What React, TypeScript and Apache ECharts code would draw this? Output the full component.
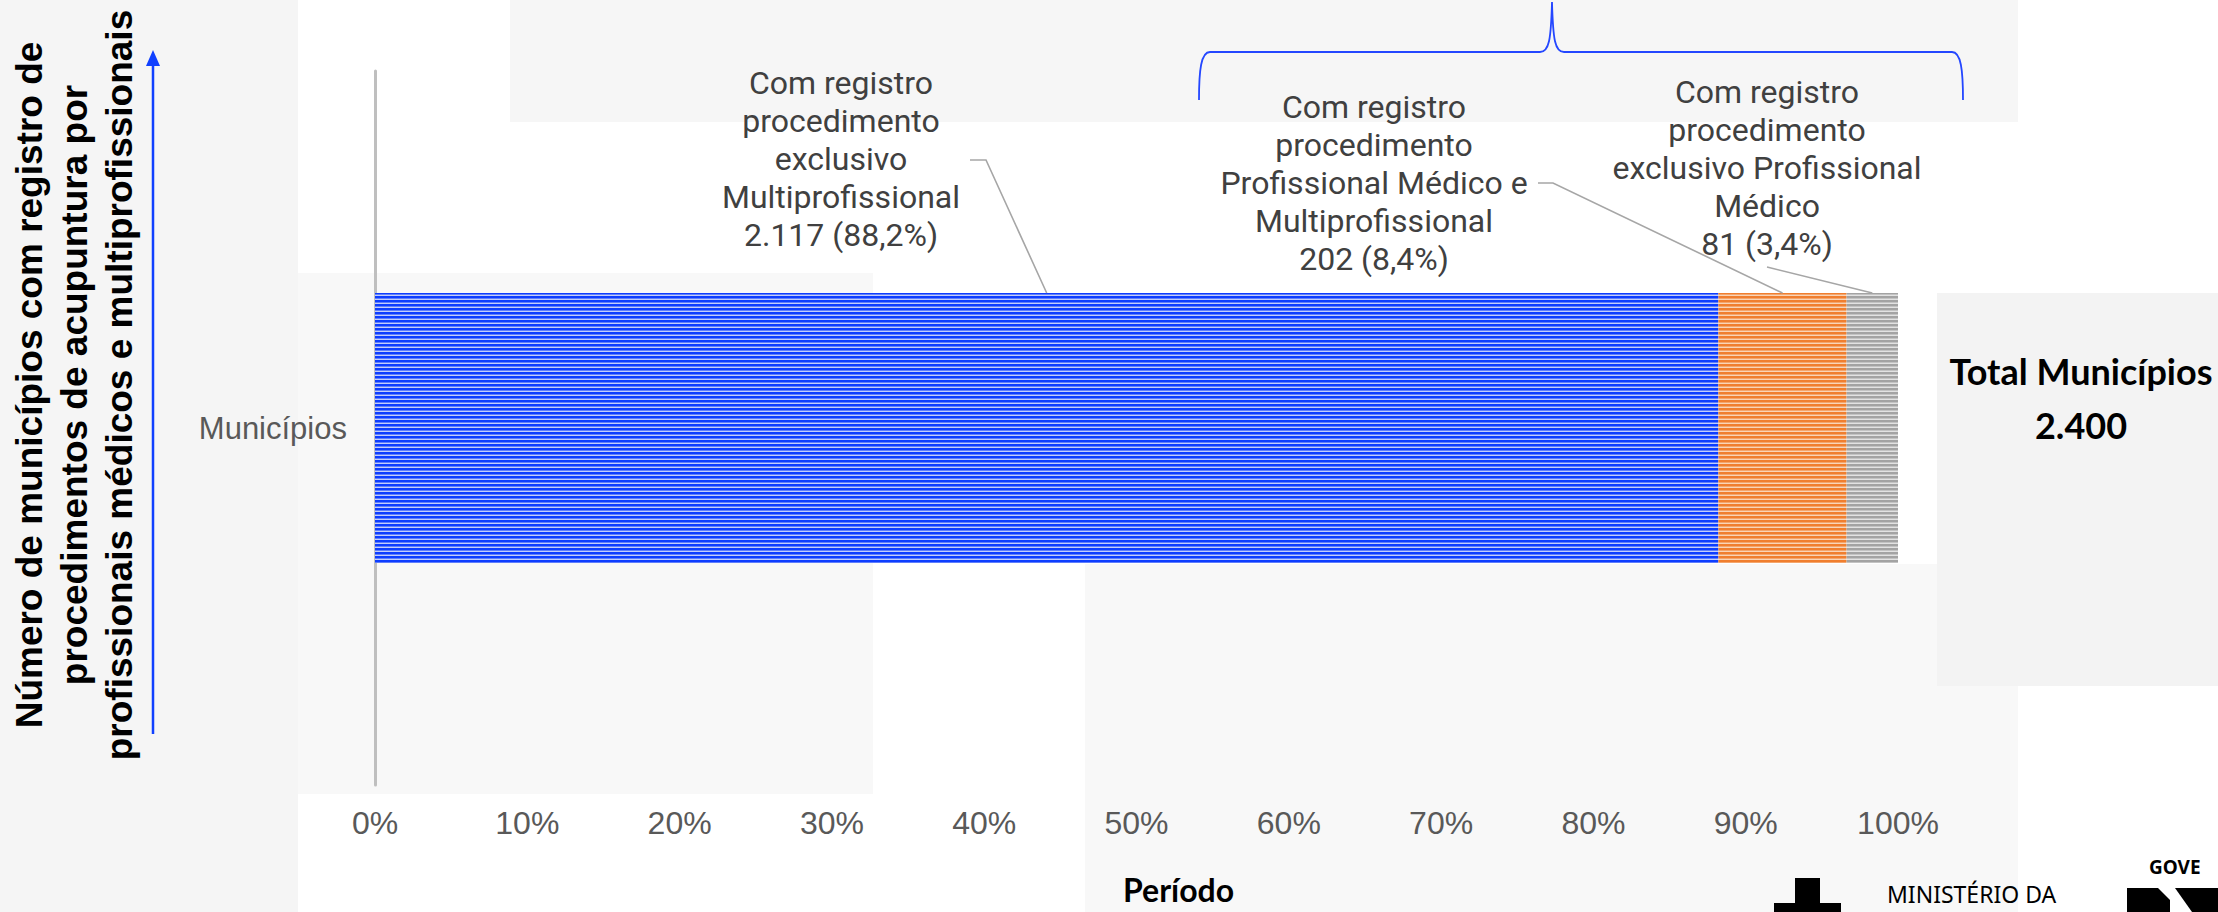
import React, { useEffect, useRef } from "react";
import * as echarts from "echarts";

// ---------- DATA ----------
const categories = ["Municípios"];
const seriesNames = [
  "Com registro procedimento exclusivo Multiprofissional",
  "Com registro procedimento Profissional Médico e Multiprofissional",
  "Com registro procedimento exclusivo Profissional Médico",
];
const exclusivoMulti = [2117];
const medicoEMulti = [202];
const exclusivoMedico = [81];
const labelHeadLines = [
  ["Com registro", "procedimento", "exclusivo", "Multiprofissional"],
  ["Com registro", "procedimento", "Profissional Médico e", "Multiprofissional"],
  ["Com registro", "procedimento", "exclusivo Profissional", "Médico"],
];
const xTickLabels = ["0%", "10%", "20%", "30%", "40%", "50%", "60%", "70%", "80%", "90%", "100%"];
const yTitleLines = [
  "Número de municípios com registro de",
  "procedimentos de acupuntura por",
  "profissionais médicos e multiprofissionais",
];

// ---------- helpers ----------
const fmtInt = (v: number) => String(v).replace(/\B(?=(\d{3})+(?!\d))/g, ".");
const fmtPct = (v: number, total: number) => {
  const t = Math.round((v * 1000) / total) / 10;
  return t.toFixed(1).replace(".", ",") + "%";
};

function stripe(dark: string, mid: string, light: string) {
  const c = document.createElement("canvas");
  c.width = 4;
  c.height = 4;
  const ctx = c.getContext("2d")!;
  ctx.fillStyle = light;
  ctx.fillRect(0, 0, 4, 4);
  ctx.fillStyle = dark;
  ctx.fillRect(0, 0, 4, 2);
  ctx.fillStyle = mid;
  ctx.fillRect(0, 2, 4, 1);
  return { image: c, repeat: "repeat", imageWidth: 4, imageHeight: 4 } as any;
}

let braceRegistered = false;
function registerBrace() {
  if (braceRegistered) return;
  braceRegistered = true;
  const d =
    "M1199,100 C1199,70 1201,52 1210,52 L1540,52 C1549,52 1551,40 1552,2 C1553,40 1555,52 1564,52 L1952,52 C1961,52 1963,70 1963,100";
  echarts.graphic.registerShape("brace", (echarts.graphic as any).extendPath(d, {}));
}

const BAR_WIDTH = 270;
const LABEL_FONT = "Roboto";
const LABEL_COLOR = "#404040";

export default function App() {
  const ref = useRef<HTMLDivElement>(null);

  useEffect(() => {
    if (!ref.current) return;
    registerBrace();
    const chart = echarts.init(ref.current, null, { renderer: "svg" });

    const seriesData = [exclusivoMulti, medicoEMulti, exclusivoMedico];
    const total = seriesData.reduce((s, arr) => s + arr[0], 0);
    const patterns = [
      stripe("#0d3dff", "#5f7efd", "#c3cdfb"),
      stripe("#f07e2e", "#f4a56c", "#f9d4b6"),
      stripe("#a3a3a3", "#c3c3c3", "#e2e2e2"),
    ];

    chart.setOption({
      animation: false,
      backgroundColor: "#ffffff",
      grid: { left: 375, right: 320, top: 71, bottom: 127, containLabel: false },
      xAxis: {
        type: "value",
        min: 0,
        max: total,
        interval: total / 10,
        axisLine: { show: false },
        axisTick: { show: false },
        splitLine: { show: false },
        axisLabel: {
          formatter: (_v: number, i: number) => xTickLabels[i] ?? "",
          fontSize: 32,
          fontFamily: "Liberation Sans",
          color: "#595959",
          margin: 22,
          showMaxLabel: true,
          showMinLabel: true,
        },
      },
      yAxis: {
        type: "category",
        data: categories,
        axisLine: { show: true, lineStyle: { color: "#bfbfbf", width: 3 } },
        axisTick: { show: false },
        axisLabel: {
          fontSize: 31,
          fontFamily: "Liberation Sans",
          color: "#595959",
          margin: 28,
        },
      },
      series: seriesData.map((d, i) => ({
        name: seriesNames[i],
        type: "bar",
        stack: "total",
        barWidth: BAR_WIDTH,
        data: d,
        itemStyle: { color: patterns[i] },
        z: 2,
      })),
    });

    // anchor points via the library's scales
    const yc = chart.convertToPixel({ yAxisIndex: 0 }, 0) as number;
    const barTop = yc - BAR_WIDTH / 2;
    let cum = 0;
    const centers: number[] = [];
    seriesData.forEach((d) => {
      centers.push(chart.convertToPixel({ xAxisIndex: 0 }, cum + d[0] / 2) as number);
      cum += d[0];
    });

    const labelTexts = seriesData.map(
      (d, i) => [...labelHeadLines[i], `${fmtInt(d[0])} (${fmtPct(d[0], total)})`].join("\n")
    );
    // label layout (positions) : [centerX, centerY]
    const labelPos = [
      [841, 159],
      [1374, 183],
      [1767, 168],
    ];
    // leader start points (layout)
    const leaderStarts = [
      [[970, 160], [986, 160]],
      [[1538, 183], [1553, 183]],
      [[1767, 267]],
    ];

    const bg = (x: number, y: number, w: number, h: number, fill: string) => ({
      type: "rect",
      z: -100,
      silent: true,
      shape: { x, y, width: w, height: h },
      style: { fill },
    });

    const txt = (
      x: number,
      y: number,
      text: string,
      font: string,
      fill: string,
      align: string,
      vAlign: string,
      lineHeight?: number,
      rotation = 0
    ) => ({
      type: "text",
      z: 100,
      x,
      y,
      rotation,
      style: {
        text,
        font,
        fill,
        align,
        verticalAlign: vAlign,
        textAlign: align,
        textVerticalAlign: vAlign,
        lineHeight,
      },
    });

    const elements: any[] = [
      bg(0, 0, 298, 912, "#f5f5f5"),
      bg(510, 0, 1508, 122, "#f6f6f6"),
      bg(298, 273, 575, 521, "#f8f8f8"),
      bg(1085, 564, 855, 348, "#f8f8f8"),
      bg(1940, 686, 78, 226, "#f8f8f8"),
      bg(1937, 293, 281, 393, "#f3f3f3"),
      // brace
      {
        type: "brace",
        z: 100,
        silent: true,
        style: { stroke: "#2447ff", fill: "none", lineWidth: 1.8 },
      },
      // y title arrow
      {
        type: "line",
        z: 100,
        shape: { x1: 153, y1: 734, x2: 153, y2: 62 },
        style: { stroke: "#1040ff", lineWidth: 2.5 },
      },
      {
        type: "polygon",
        z: 100,
        shape: { points: [[153, 50], [146, 66], [160, 66]] },
        style: { fill: "#1040ff" },
      },
      txt(74, 385, yTitleLines.join("\n"), "bold 37px 'Liberation Sans'", "#000000", "center", "middle", 45, Math.PI / 2),
      // total
      txt(2081, 398, `Total Municípios\n${fmtInt(total)}`, "bold 36px Lato", "#000000", "center", "middle", 54),
      // footer
      txt(1123, 905, "Período", "bold 32px Lato", "#000000", "left", "bottom"),
      txt(1887, 905, "MINISTÉRIO DA", "23px 'Noto Sans'", "#000000", "left", "bottom"),
      txt(2149, 867, "GOVE", "bold 19px 'Noto Sans'", "#000000", "left", "middle"),
      { type: "rect", z: 100, shape: { x: 1795, y: 878, width: 25, height: 26 }, style: { fill: "#000" } },
      { type: "rect", z: 100, shape: { x: 1774, y: 903, width: 67, height: 9 }, style: { fill: "#000" } },
      {
        type: "polygon",
        z: 100,
        shape: { points: [[2127, 888], [2158, 888], [2170, 900], [2170, 912], [2127, 912]] },
        style: { fill: "#000" },
      },
      {
        type: "polygon",
        z: 100,
        shape: { points: [[2175, 888], [2218, 888], [2218, 912], [2192, 912]] },
        style: { fill: "#000" },
      },
    ];

    labelTexts.forEach((t, i) => {
      elements.push(
        txt(labelPos[i][0], labelPos[i][1], t, `32px ${LABEL_FONT}`, LABEL_COLOR, "center", "middle", 38)
      );
      elements.push({
        type: "polyline",
        z: 100,
        silent: true,
        shape: { points: [...leaderStarts[i], [centers[i], barTop]] },
        style: { stroke: "#a6a6a6", lineWidth: 1.6, fill: "none" },
      });
    });

    chart.setOption({ graphic: { elements } });

    return () => chart.dispose();
  }, []);

  return (
    <div
      ref={ref}
      style={{ position: "absolute", left: 0, top: 0, width: 2218, height: 912 }}
    />
  );
}
